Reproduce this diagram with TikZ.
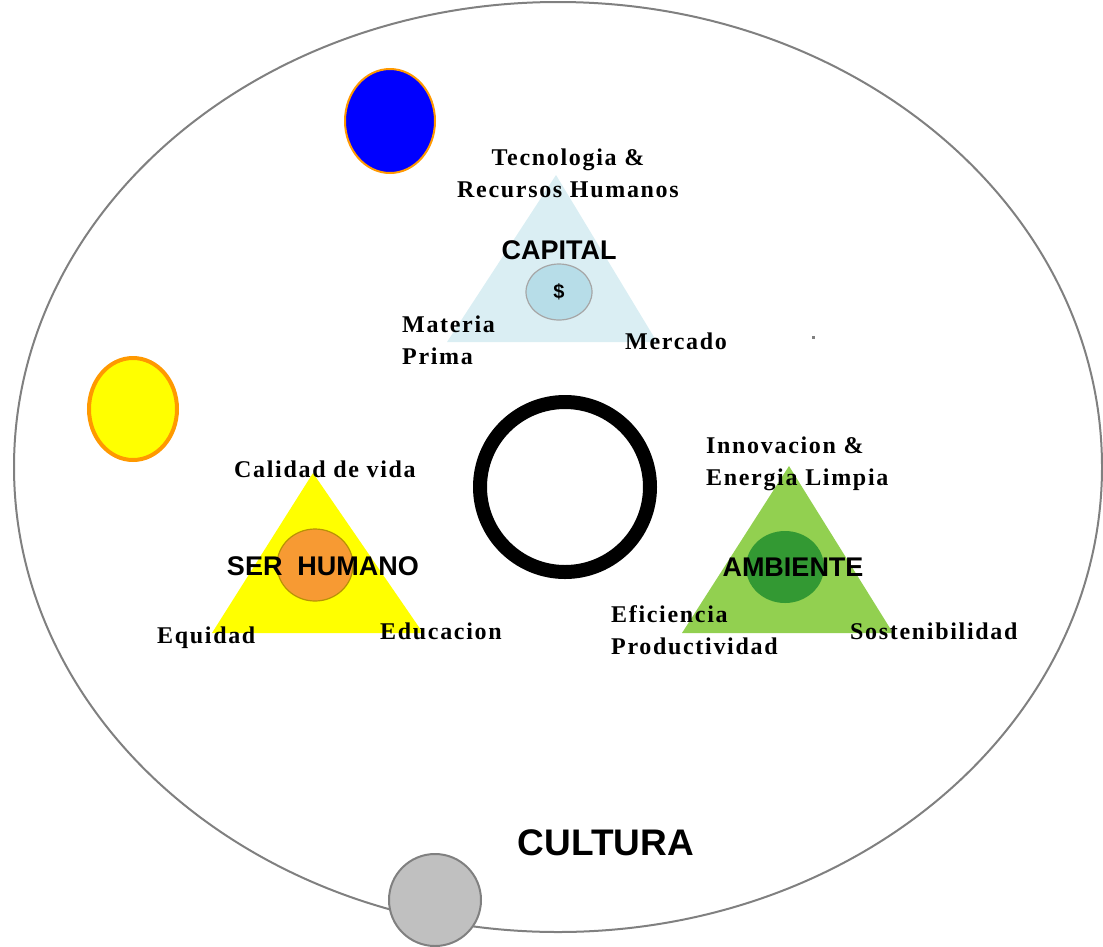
\documentclass[tikz,border=0pt]{standalone}
\usepackage{fontspec}
\usetikzlibrary{shapes.geometric}
\setmainfont{Liberation Serif}[LetterSpace=7]
\setsansfont{Liberation Sans}
\definecolor{capfill}{HTML}{DAEEF3}
\definecolor{capcirc}{HTML}{B7DDE8}
\definecolor{orangeC}{HTML}{F79A33}
\definecolor{greenT}{HTML}{92D050}
\definecolor{greenC}{HTML}{339933}
\definecolor{borderO}{HTML}{FF9900}
\definecolor{grayF}{HTML}{C0C0C0}
\definecolor{yelT}{HTML}{FFFF00}
\tikzset{
  lbl/.style={inner sep=0pt, font=\fontsize{24}{32}\selectfont\bfseries, text=black},
  title/.style={inner sep=0pt, font=\fontsize{27}{29}\selectfont\sffamily\bfseries},
}
\begin{document}
\begin{tikzpicture}[x=1pt,y=-1pt]
\useasboundingbox (0,0) rectangle (1103,946);
% big ellipse
\draw[line width=2pt, draw=gray] (558,467) ellipse [x radius=544, y radius=465];
% circles
\node[ellipse, draw=borderO, line width=2pt, fill=blue, minimum width=90pt, minimum height=104pt, inner sep=0pt] (blue) at (390,121) {};
\node[draw=borderO, line width=4pt, fill=yelT, minimum width=88pt, minimum height=102pt, inner sep=0pt, ellipse] (yel) at (133,409) {};
\node[circle, draw=gray, line width=2pt, fill=grayF, minimum size=92pt, inner sep=0pt] (grayc) at (435,900) {};
\node[circle, draw=black, line width=14pt, minimum size=170pt, inner sep=0pt] (ring) at (565,487) {};
% capital triangle
\fill[capfill] (556,175) -- (657,342) -- (447,342) -- cycle;
\node[ellipse, draw=gray!70, line width=1.2pt, fill=capcirc, minimum width=66pt, minimum height=56pt, inner sep=0pt] (capc) at (559,292) {};
\node[title] (capital) at (559,250) {CAPITAL};
\node[inner sep=0pt, font=\fontsize{20}{22}\selectfont\sffamily\bfseries] (dollar) at (559,292) {\$};
\node[lbl, align=center] (tec) at (568,173) {Tecnologia \&\\Recursos Humanos};
\node[lbl, align=left, anchor=west] (mat) at (402,340) {Materia\\Prima};
\node[lbl, anchor=west] (mer) at (625,341) {Mercado};
% ser humano
\fill[yelT] (313,473) -- (423,633) -- (212,633) -- cycle;
\node[ellipse, draw=olive!60!orange, line width=1.2pt, fill=orangeC, minimum width=76pt, minimum height=72pt, inner sep=0pt] (hc) at (315,565) {};
\node[title] (ser) at (323,566) {SER\ \ HUMANO};
\node[lbl] (cal) at (325,469) {Calidad de vida};
\node[lbl, anchor=west] (equ) at (157,638) {Equidad};
\node[lbl, anchor=west] (edu) at (380,631) {Educacion};
% ambiente
\fill[greenT] (789,466) -- (893,633) -- (682,633) -- cycle;
\node[ellipse, fill=greenC, minimum width=78pt, minimum height=72pt, inner sep=0pt] (ac) at (785,567) {};
\node[title] (amb) at (793,567) {AMBIENTE};
\node[lbl, align=left, anchor=west] (inn) at (706,464) {Innovacion \&\\Energia Limpia};
\node[lbl, align=left, anchor=west] (efi) at (611,630) {Eficiencia\\Productividad};
\node[lbl, anchor=west] (sos) at (850,631) {Sostenibilidad};
% dot
\fill[gray] (811.5,335.5) rectangle (814.5,338.5);
% cultura
\node[inner sep=0pt, font=\fontsize{37}{39}\selectfont\sffamily\bfseries] (cul) at (606,843) {CULTURA};
\end{tikzpicture}
\end{document}
